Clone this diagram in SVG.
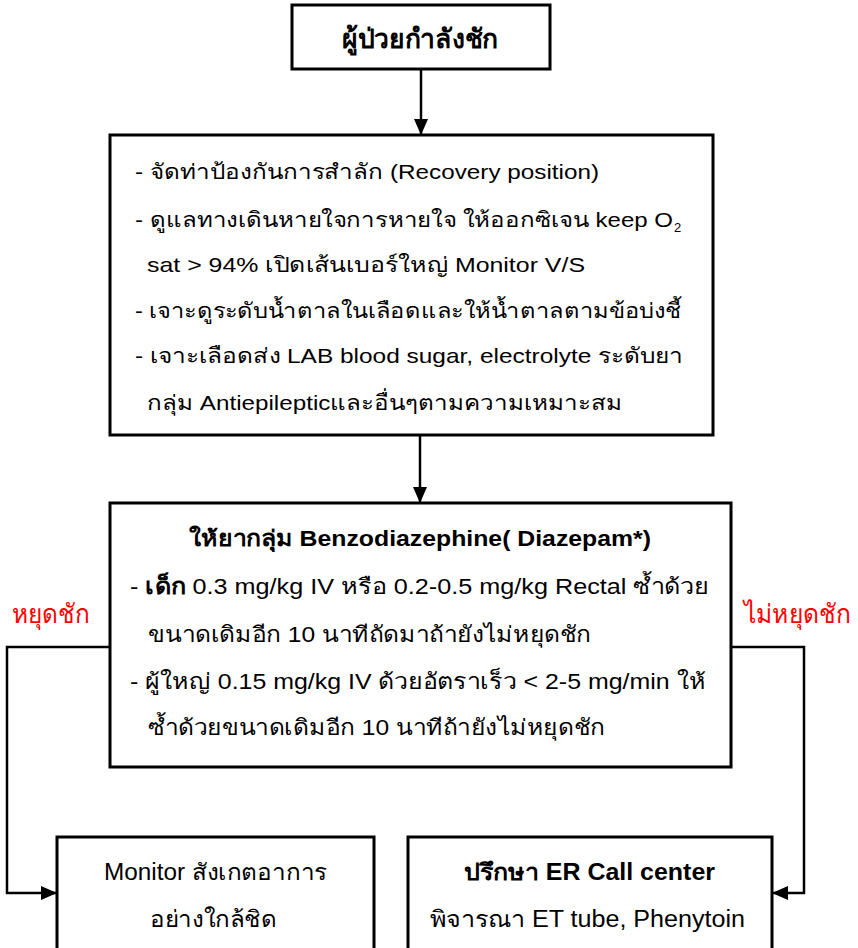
<svg xmlns="http://www.w3.org/2000/svg" width="858" height="948" viewBox="0 0 858 948">
<style>
.box{fill:#fff;stroke:#000;stroke-width:3}
.edge{fill:none;stroke:#000;stroke-width:2.5}
text{font-family:"Liberation Sans","Noto Sans",sans-serif;font-size:21px;fill:#000}
.b{font-weight:bold}
.red{fill:#ff0000;font-size:26px}
.m{font-size:22px}
.n{font-size:23px}
</style>
<defs>
<marker id="ah" markerUnits="userSpaceOnUse" markerWidth="16" markerHeight="16" viewBox="0 0 16 16" refX="15" refY="8" orient="auto">
<path d="M0,1 L16,8 L0,15 Z" fill="#000"/>
</marker>
</defs>
<rect width="858" height="948" fill="#fff"/>
<g id="connectors">
<line class="edge" x1="421" y1="69" x2="421" y2="134" marker-end="url(#ah)"/>
<line class="edge" x1="420" y1="435" x2="420" y2="502" marker-end="url(#ah)"/>
<polyline class="edge" points="110,647 7,647 7,893 56,893" marker-end="url(#ah)"/>
<polyline class="edge" points="731,647 804,647 804,893 773,893" marker-end="url(#ah)"/>
<text class="red" x="12" y="623" textLength="78" lengthAdjust="spacingAndGlyphs">หยุดชัก</text>
<text class="red" x="744" y="623" textLength="107" lengthAdjust="spacingAndGlyphs">ไม่หยุดชัก</text>
</g>
<g id="start">
<rect class="box" x="292" y="5" width="258" height="64"/>
<text class="b" x="342" y="48" textLength="156" lengthAdjust="spacingAndGlyphs" style="font-size:27px">ผู้ป่วยกำลังชัก</text>
</g>
<g id="first-aid">
<rect class="box" x="110" y="135" width="603" height="300"/>
<text x="135" y="179" textLength="464" lengthAdjust="spacingAndGlyphs">- จัดท่าป้องกันการสำลัก (Recovery position)</text>
<text x="135" y="227" textLength="538" lengthAdjust="spacingAndGlyphs">- ดูแลทางเดินหายใจการหายใจ ให้ออกซิเจน keep O</text>
<text x="674" y="232" style="font-size:13px">2</text>
<text x="147" y="272" textLength="438" lengthAdjust="spacingAndGlyphs">sat &gt; 94% เปิดเส้นเบอร์ใหญ่ Monitor V/S</text>
<text x="135" y="318" textLength="546" lengthAdjust="spacingAndGlyphs">- เจาะดูระดับน้ำตาลในเลือดและให้น้ำตาลตามข้อบ่งชี้</text>
<text x="135" y="363" textLength="548" lengthAdjust="spacingAndGlyphs">- เจาะเลือดส่ง LAB blood sugar, electrolyte ระดับยา</text>
<text x="147" y="410" textLength="475" lengthAdjust="spacingAndGlyphs">กลุ่ม Antiepilepticและอื่นๆตามความเหมาะสม</text>
</g>
<g id="benzodiazepine">
<rect class="box" x="110" y="503" width="621" height="264"/>
<text class="b m" x="189" y="546" textLength="462" lengthAdjust="spacingAndGlyphs">ให้ยากลุ่ม Benzodiazephine( Diazepam*)</text>
<text class="m" x="130" y="594" textLength="579" lengthAdjust="spacingAndGlyphs">- <tspan class="b">เด็ก</tspan> 0.3 mg/kg IV หรือ 0.2-0.5 mg/kg Rectal ซ้ำด้วย</text>
<text class="m" x="148" y="642" textLength="443" lengthAdjust="spacingAndGlyphs">ขนาดเดิมอีก 10 นาทีถัดมาถ้ายังไม่หยุดชัก</text>
<text class="m" x="130" y="689" textLength="576" lengthAdjust="spacingAndGlyphs">- ผู้ใหญ่ 0.15 mg/kg IV ด้วยอัตราเร็ว &lt; 2-5 mg/min ให้</text>
<text class="m" x="148" y="735" textLength="457" lengthAdjust="spacingAndGlyphs">ซ้ำด้วยขนาดเดิมอีก 10 นาทีถ้ายังไม่หยุดชัก</text>
</g>
<g id="monitor">
<rect class="box" x="57" y="837" width="317" height="125"/>
<text class="n" x="104" y="880" textLength="223" lengthAdjust="spacingAndGlyphs">Monitor สังเกตอาการ</text>
<text class="n" x="150" y="927" textLength="127" lengthAdjust="spacingAndGlyphs">อย่างใกล้ชิด</text>
</g>
<g id="consult">
<rect class="box" x="408" y="837" width="364" height="125"/>
<text class="b n" x="464" y="880" textLength="251" lengthAdjust="spacingAndGlyphs">ปรึกษา ER Call center</text>
<text class="n" x="430" y="927" textLength="315" lengthAdjust="spacingAndGlyphs">พิจารณา ET tube, Phenytoin</text>
</g>
</svg>
